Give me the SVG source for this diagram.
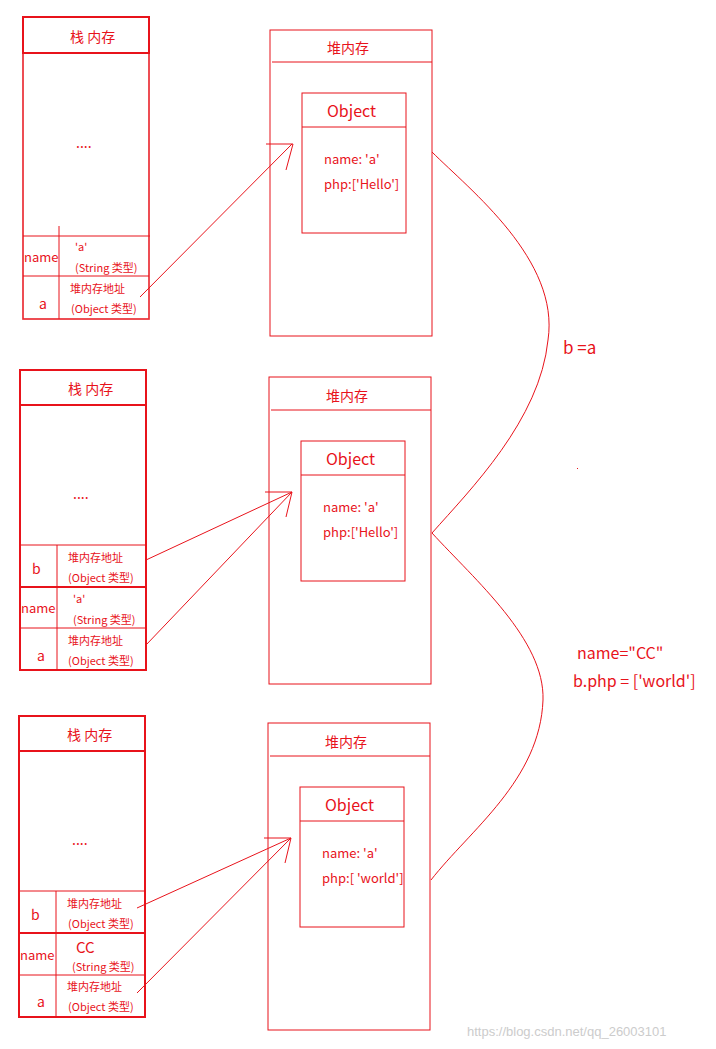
<svg xmlns="http://www.w3.org/2000/svg" width="716" height="1049" viewBox="0 0 716 1049">
<style>
.l{stroke:#e8131b;fill:none;stroke-width:1}
.t{stroke:#e8131b;fill:none;stroke-width:2}
text{fill:#e8131b;font-family:"Microsoft YaHei","Noto Sans CJK SC",sans-serif}
.s{font-size:11px}.m{font-size:13px}.h{font-size:14px}.o{font-size:16px}
</style>
<rect width="716" height="1049" fill="#fff"/>
<g id="stack1">
<rect class="l" x="23" y="17" width="126" height="302"/><rect class="t" x="23" y="17" width="126" height="36"/>
<path class="l" d="M23 236H150M23 276H149M59 226V319"/><rect class="t" x="23" y="17" width="126" height="302" stroke-opacity="0.5"/>
<text class="h" x="70" y="42">栈 内存</text><text class="h" x="76" y="148">....</text>
<text class="m" x="24" y="262">name</text><text class="s" x="75" y="251">'a'</text><text class="s" x="75" y="272">(String 类型)</text>
<text class="h" x="39" y="309">a</text><text class="s" x="70" y="293">堆内存地址</text><text class="s" x="71" y="313">(Object 类型)</text>
</g>
<g id="heap1">
<rect class="l" x="270" y="30" width="162" height="306"/><path class="l" d="M272 62H432"/><text class="h" x="327" y="53">堆内存</text>
<rect class="l" x="302" y="93" width="104" height="140"/><path class="l" d="M302 127H406"/>
<text class="o" x="327" y="117">Object</text><text class="m" x="324" y="164">name: 'a'</text><text class="m" x="324" y="189">php:['Hello']</text>
</g>
<g id="stack2">
<rect class="t" x="20" y="370" width="126" height="300"/><path class="t" d="M20 405H146"/>
<path class="l" d="M20 545H146M20 628H146M57 545V670"/><path class="t" d="M20 587H147"/>
<text class="h" x="68" y="394">栈 内存</text><text class="h" x="73" y="499">....</text>
<text class="h" x="32" y="574">b</text><text class="s" x="68" y="562">堆内存地址</text><text class="s" x="68" y="582">(Object 类型)</text>
<text class="m" x="21" y="613">name</text><text class="s" x="73" y="603">'a'</text><text class="s" x="73" y="624">(String 类型)</text>
<text class="h" x="37" y="661">a</text><text class="s" x="68" y="645">堆内存地址</text><text class="s" x="68" y="665">(Object 类型)</text>
</g>
<g id="heap2">
<rect class="l" x="269" y="377" width="162" height="307"/><path class="l" d="M271 410H431"/><text class="h" x="326" y="401">堆内存</text>
<rect class="l" x="301" y="441" width="104" height="140"/><path class="l" d="M301 475H405"/>
<text class="o" x="326" y="465">Object</text><text class="m" x="323" y="512">name: 'a'</text><text class="m" x="323" y="537">php:['Hello']</text>
</g>
<g id="stack3">
<rect class="t" x="19" y="716" width="126" height="301"/><path class="t" d="M19 751H145"/>
<path class="l" d="M19 891H145M19 975H145M56 891V1017"/><path class="t" d="M19 933H146"/>
<text class="h" x="67" y="740">栈 内存</text><text class="h" x="72" y="845">....</text>
<text class="h" x="31" y="920">b</text><text class="s" x="67" y="908">堆内存地址</text><text class="s" x="68" y="928">(Object 类型)</text>
<text class="m" x="20" y="960">name</text><text x="76" y="953" font-size="15">CC</text><text class="s" x="72" y="971">(String 类型)</text>
<text class="h" x="37" y="1007">a</text><text class="s" x="67" y="991">堆内存地址</text><text class="s" x="68" y="1011">(Object 类型)</text>
</g>
<g id="heap3">
<rect class="l" x="268" y="723" width="162" height="307"/><path class="l" d="M270 756H430"/><text class="h" x="325" y="747">堆内存</text>
<rect class="l" x="300" y="787" width="104" height="140"/><path class="l" d="M300 821H404"/>
<text class="o" x="325" y="811">Object</text><text class="m" x="322" y="858">name: 'a'</text><text class="m" x="322" y="883">php:[ 'world']</text>
</g>
<g id="connectors">
<path class="l" d="M140 297L292 144M266 144H293L286 170"/>
<path class="l" d="M146 560L292 492M146 645L292 492M265 492H292L286 517"/>
<path class="l" d="M137 908L291 838M137 993L291 838M264 838H291L285 863"/>
<path class="l" d="M432 152C470 190 560 260 548 340C540 420 470 490 432 533"/>
<path class="l" d="M432 533C475 580 545 640 543 700C540 780 470 830 431 880"/>
</g>
<text x="563" y="354" font-size="17">b =a</text>
<rect x="577" y="468" width="1" height="1" fill="#e8131b"/>
<text x="577" y="659" font-size="16">name="CC"</text>
<text x="573" y="687" font-size="16">b.php = ['world']</text>
<text x="467" y="1036" font-size="13" style="fill:#ccc;font-family:'Liberation Sans',sans-serif">https://blog.csdn.net/qq_26003101</text>
</svg>
